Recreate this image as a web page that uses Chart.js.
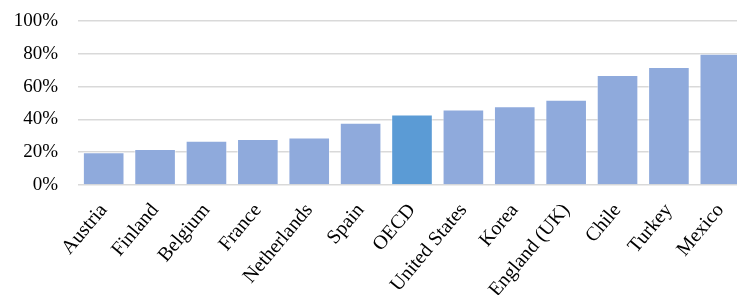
<!DOCTYPE html>
<html>
<head>
<meta charset="utf-8">
<script src="https://cdn.jsdelivr.net/npm/chart.js@4"></script>
<style>
    html, body { margin: 0; padding: 0; background: #fff; overflow: hidden; }
    #wrap { width: 746px; height: 295px; position: relative; }
</style>
</head>
<body>
<div id="wrap"><canvas id="chart"></canvas></div>
<script>
// Chart data
const countries = ['Austria', 'Finland', 'Belgium', 'France', 'Netherlands', 'Spain', 'OECD',
    'United States', 'Korea', 'England (UK)', 'Chile', 'Turkey', 'Mexico'];
const shares = [20, 22, 27, 28, 29, 38, 43, 46, 48, 52, 67, 72, 80];
const yTicks = [0, 20, 40, 60, 80, 100];

// OECD average gets its own colour
const barColors = countries.map(c => c === 'OECD' ? '#5b9bd5' : '#8faadc');

const ctx = document.getElementById('chart').getContext('2d');
new Chart(ctx, {
    type: 'bar',
    data: {
        labels: countries,
        datasets: [{
            data: shares,
            backgroundColor: barColors,
            borderColor: 'rgba(255,255,255,0.5)',
            borderWidth: 1,
            barPercentage: 0.81,
            categoryPercentage: 1
        }]
    },
    options: {
        responsive: true,
        maintainAspectRatio: false,
        animation: false,
        layout: { padding: { top: 21, left: 0, right: 0, bottom: 0 } },
        plugins: {
            legend: { display: false },
            tooltip: { enabled: false }
        },
        scales: {
            y: {
                min: 0,
                max: 100,
                afterBuildTicks: scale => {
                    scale.ticks = yTicks.map(v => ({ value: v }));
                },
                afterFit: scale => {
                    scale.width = 78;
                    scale.paddingTop = 0;
                    scale.paddingBottom = 0;
                },
                border: { display: false },
                grid: {
                    color: '#d9d9d9',
                    lineWidth: 1.5,
                    drawTicks: false
                },
                ticks: {
                    padding: 20,
                    color: '#000',
                    font: { family: '"Liberation Serif", "Times New Roman", serif', size: 19 },
                    callback: v => v + '%'
                }
            },
            x: {
                afterFit: scale => {
                    scale.height = 110;
                    scale.paddingTop = 0;
                },
                border: { display: false },
                grid: { display: false },
                ticks: {
                    minRotation: 50,
                    maxRotation: 50,
                    autoSkip: false,
                    padding: 6,
                    color: '#000',
                    font: { family: '"Liberation Serif", "Times New Roman", serif', size: 20 }
                }
            }
        }
    }
});
</script>
</body>
</html>
